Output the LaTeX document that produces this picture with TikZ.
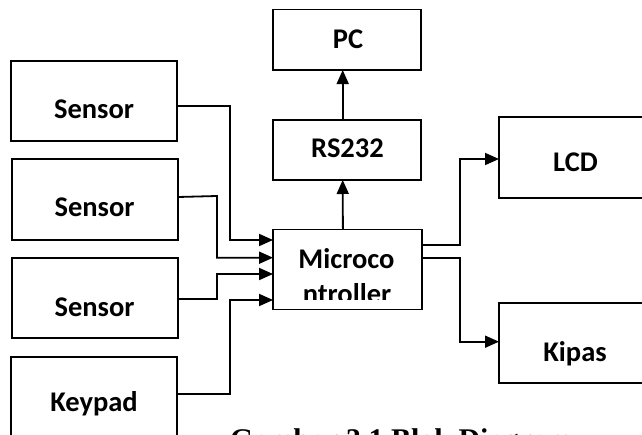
\documentclass[tikz,border=0pt]{standalone}
\usepackage{fontspec}
\newfontfamily\boxfont{Carlito}[BoldFont={* Bold}]
\newfontfamily\capfont{Liberation Serif}
\usetikzlibrary{arrows.meta}
\tikzset{
  blk/.style={draw, line width=1.8pt, inner sep=0pt, outer sep=0pt},
  lbl/.style={font=\boxfont\bfseries\fontsize{28.5}{34}\selectfont, inner sep=0pt, anchor=base},
  conn/.style={line width=1.8pt, -{Triangle[length=14pt,width=12pt]}},
  plain/.style={line width=1.8pt}
}
\begin{document}
\begin{tikzpicture}[x=1pt,y=-1pt]
\useasboundingbox (0,0) rectangle (642,435);
\fill[white] (0,0) rectangle (642,435);
\clip (0,0) rectangle (642,435);
% boxes
\node[blk, minimum width=166.3pt, minimum height=80pt] (s1) at (93.9,100.7) {};
\node[blk, minimum width=166.3pt, minimum height=81pt] (s2) at (94.9,199.5) {};
\node[blk, minimum width=166.3pt, minimum height=80.3pt] (s3) at (94.9,297.9) {};
\node[blk, minimum width=166.3pt, minimum height=84pt] (kp) at (93.9,399) {};
\node[blk, minimum width=147.7pt, minimum height=60.5pt] (pc) at (347.2,39.8) {};
\node[blk, minimum width=147.7pt, minimum height=60pt] (rs) at (347.2,150) {};
\node[blk, minimum width=148.7pt, minimum height=80pt] (mc) at (347.4,269.5) {};
\node[blk, minimum width=153pt, minimum height=81pt] (lcd) at (575.5,157.5) {};
\node[blk, minimum width=153pt, minimum height=80.3pt] (kip) at (575.5,342.9) {};
% labels
\node[lbl] (s1t) at (94,118.3) {Sensor};
\node[lbl] (s2t) at (94.5,216.7) {Sensor};
\node[lbl] (s3t) at (94.5,316.7) {Sensor};
\node[lbl] (kpt) at (94,411.7) {Keypad};
\node[lbl] (pct) at (348,49) {PC};
\node[lbl] (rst) at (347.5,158) {RS232};
\node[lbl] (lcdt) at (575.5,171.7) {LCD};
\node[lbl] (kipt) at (575,361.7) {Kipas};
\node[lbl] (mct1) at (346.5,268.3) {Microco};
\begin{scope}
\clip (274,230) rectangle (421,300);
\node[lbl] (mct2) at (347,304) {ntroller};
\end{scope}
% connectors
\draw[conn] ([yshift=-5.3pt]s1.east) -| (230,240) -- ([yshift=29.5pt]mc.west);
\draw[conn] ([yshift=2.5pt]s2.east) -- (217,196) -- (217,257.7) -- ([yshift=11.8pt]mc.west);
\draw[conn] ([yshift=-1.1pt]s3.east) -| (217,274) -- ([yshift=-4.5pt]mc.west);
\draw[conn] ([yshift=5pt]kp.east) -| (230,300) -- ([yshift=-30.5pt]mc.west);
\draw[conn] ([xshift=-4.5pt]mc.north) -- ([xshift=-4.5pt]rs.south);
\draw[conn] ([xshift=-4.5pt]rs.north) -- ([xshift=-4.5pt]pc.south);
\draw[conn] ([yshift=24.5pt]mc.east) -| (460,159) -- (lcd.west |- 0,159);
\draw[conn] ([yshift=11.8pt]mc.east) -| (460,341.7) -- (kip.west |- 0,341.7);
% caption
\node[font=\capfont\bfseries\fontsize{30}{36}\selectfont, inner sep=0pt, anchor=base west] (cap) at (230,449) {Gambar 3.1 Blok Diagram};
\end{tikzpicture}
\end{document}
